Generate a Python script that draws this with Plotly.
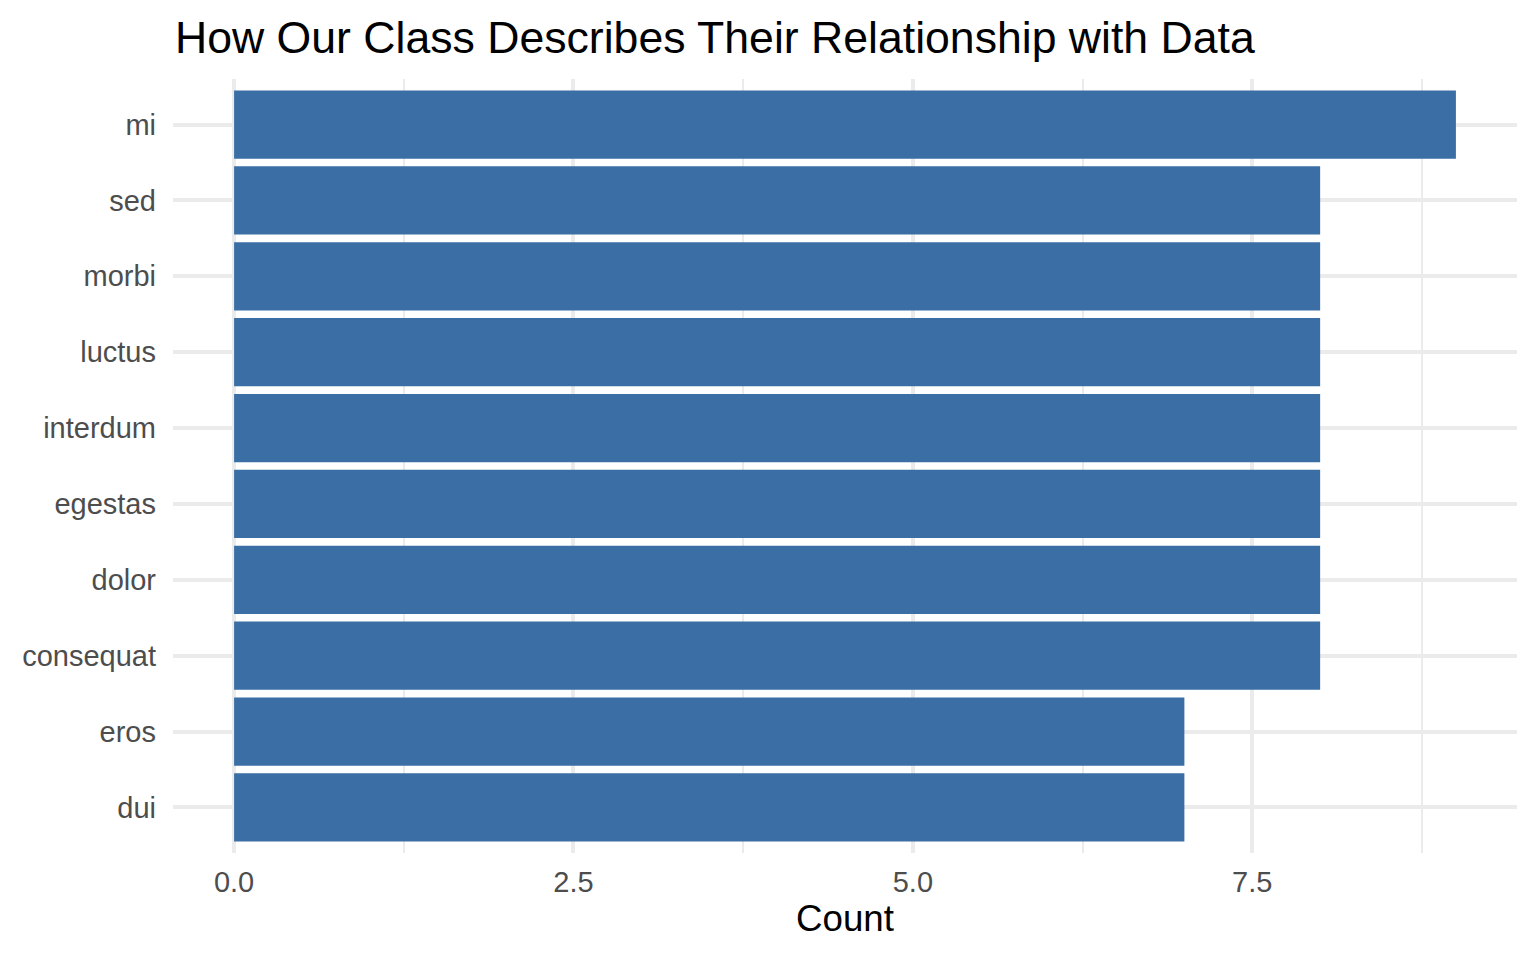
import plotly.graph_objects as go

# bottom-to-top order
words = ["dui", "eros", "consequat", "dolor", "egestas",
         "interdum", "luctus", "morbi", "sed", "mi"]
counts = [7, 7, 8, 8, 8, 8, 8, 8, 8, 9]

x_ticks = [0, 2.5, 5, 7.5]
x_tick_text = ["0.0", "2.5", "5.0", "7.5"]

grid = "#ebebeb"
font = "Liberation Sans, Arial, sans-serif"

fig = go.Figure()
fig.add_trace(go.Bar(x=counts, y=words, orientation="h", width=0.9,
                     marker_color="#3a6ea5", marker_line_width=0))

# page body adds 8px, so the figure is a bit smaller than the window
fig.update_layout(
    width=1528, height=952,
    margin=dict(l=165, r=19, t=71, b=107),
    plot_bgcolor="white", paper_bgcolor="white",
    showlegend=False,
    font=dict(family=font, size=29, color="#4d4d4d"),
    title=dict(text="How Our Class Describes Their Relationship with Data",
               x=167 / 1528, xref="container", xanchor="left",
               y=1 - 14 / 952, yref="container", yanchor="top",
               font=dict(size=44.6, color="black", family=font)),
)
fig.update_xaxes(
    range=[-0.45, 9.45], tickvals=x_ticks, ticktext=x_tick_text,
    showgrid=True, gridcolor=grid, gridwidth=3.5, zeroline=False,
    showline=False, ticks="", ticklabelstandoff=9,
    minor=dict(tickvals=[1.25, 3.75, 6.25, 8.75], showgrid=True,
               gridcolor=grid, gridwidth=1.8, ticks=""),
    title=dict(text="Count", font=dict(size=36.7, color="black"), standoff=5),
)
fig.update_yaxes(
    range=[-0.6, 9.6], showgrid=True, gridcolor=grid, gridwidth=3.5,
    zeroline=False, showline=False, ticks="", ticklabelstandoff=16,
)

fig.write_html("out.html")
